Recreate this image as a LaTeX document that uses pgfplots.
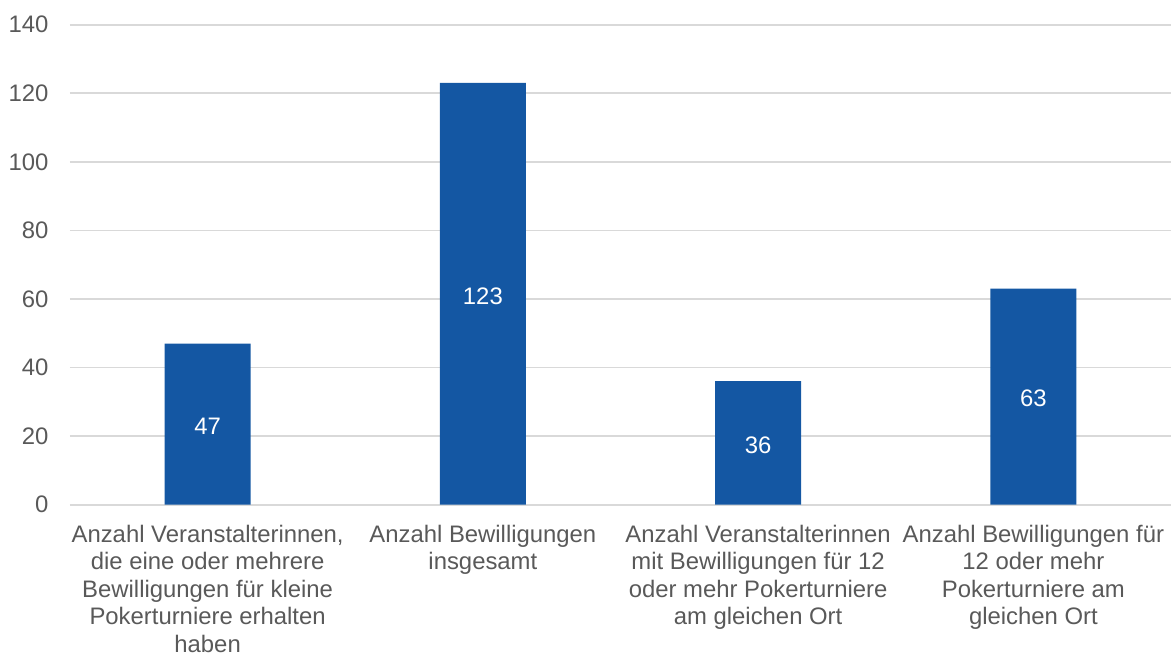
\documentclass[border=0pt]{standalone}
\usepackage{pgfplots}
\pgfplotsset{compat=1.18}
\usepackage{pgfplotstable}
\usepackage{fontspec}
\setmainfont{Liberation Sans}
\definecolor{barblue}{HTML}{1457A3}
\definecolor{txt}{HTML}{595959}
\definecolor{gridc}{HTML}{D9D9D9}
\pgfplotstableread{
x y
0 47
1 123
2 36
3 63
}\data
\begin{document}
\begin{tikzpicture}
\path[use as bounding box] (-52.5pt,-112.7pt) rectangle (825.75pt,378.5pt);
\begin{axis}[
  at={(0pt,0pt)}, anchor=south west,
  scale only axis,
  width=825.75pt, height=360pt,
  xmin=-0.5, xmax=3.5, ymin=0, ymax=140,
  ytick={0,20,...,140},
  xtick={0,1,2,3},
  xticklabels={{Anzahl Veranstalterinnen,\\die eine oder mehrere\\Bewilligungen für kleine\\Pokerturniere erhalten\\haben},
               {Anzahl Bewilligungen\\insgesamt},
               {Anzahl Veranstalterinnen\\mit Bewilligungen für 12\\oder mehr Pokerturniere\\am gleichen Ort},
               {Anzahl Bewilligungen für\\12 oder mehr\\Pokerturniere am\\gleichen Ort}},
  ymajorgrids,
  grid style={draw=gridc, line width=1.3pt},
  axis line style={draw=none},
  major tick length=0pt,
  /pgf/number format/assume math mode=true,
  ticklabel style={font=\fontsize{17.9}{20.6}\selectfont, text=txt},
  xticklabel style={align=center, anchor=north, inner sep=0pt, yshift=-15pt},
  yticklabel style={anchor=east, inner sep=0pt, xshift=-16pt},
  clip=false,
]
\addplot[ybar, bar width=64.5pt, fill=barblue, draw=none] table[x=x, y=y] {\data};
\addplot[draw=none, mark=none, nodes near coords, point meta=\thisrow{y},
  every node near coord/.append style={anchor=center, yshift=-1.5pt, text=white, font=\fontsize{17.9}{20.6}\selectfont}]
  table[x=x, y expr=\thisrow{y}/2] {\data};
\end{axis}
\end{tikzpicture}
\end{document}
